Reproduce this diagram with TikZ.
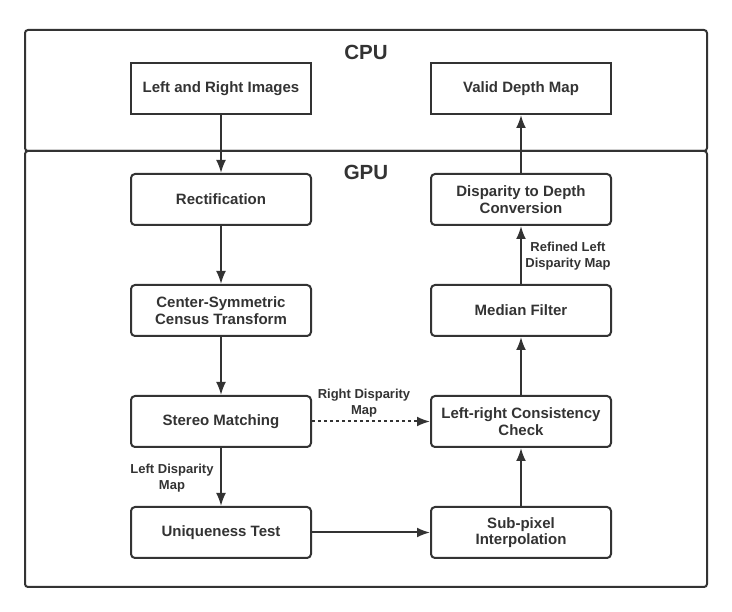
\documentclass[tikz,border=0pt]{standalone}
\usepackage{fontspec}
\setmainfont{Liberation Sans}
\usetikzlibrary{arrows.meta}
\definecolor{ink}{HTML}{333333}
\begin{document}
\begin{tikzpicture}[x=1pt,y=-1pt,
  container/.style={draw=ink,line width=2pt,rounded corners=3pt},
  cpubox/.style={draw=ink,line width=2pt,minimum width=180pt,minimum height=51pt,align=center,font=\fontsize{15}{16.5}\selectfont\bfseries,text=ink,inner sep=2pt},
  gpubox/.style={cpubox,rounded corners=4pt},
  title/.style={font=\fontsize{20.5}{24}\selectfont\bfseries,text=ink},
  lbl/.style={font=\fontsize{13}{16}\selectfont\bfseries,text=ink,align=center,inner sep=1pt},
  arr/.style={draw=ink,line width=2pt,-{Latex[length=13pt,width=10pt]}},
]
\useasboundingbox (0,0) rectangle (732,612);
\draw[container] (25,30) rectangle (707,151);
\draw[container] (25,151) rectangle (707,587);
\node[title] (cpu) at (366,52) {CPU};
\node[title] (gpu) at (366,172) {GPU};
\node[cpubox] (lr) at (221,88.5) {Left and Right Images};
\node[cpubox] (vd) at (521,88.5) {Valid Depth Map};
\node[gpubox] (rect) at (221,199.5) {Rectification};
\node[gpubox] (census) at (221,310.5) {Center-Symmetric\\Census Transform};
\node[gpubox] (stereo) at (221,421.5) {Stereo Matching};
\node[gpubox] (uniq) at (221,532.5) {Uniqueness Test};
\node[gpubox] (d2d) at (521,199.5) {Disparity to Depth\\Conversion};
\node[gpubox] (median) at (521,310.5) {Median Filter};
\node[gpubox] (lrc) at (521,421.5) {Left-right Consistency\\Check};
\node[gpubox] (sub) at (521,532.5) {Sub-pixel\\Interpolation};
\draw[arr] (lr) -- (rect);
\draw[arr] (rect) -- (census);
\draw[arr] (census) -- (stereo);
\draw[arr] (stereo) -- (uniq);
\draw[arr] (uniq) -- (sub);
\draw[arr] (sub) -- (lrc);
\draw[arr] (lrc) -- (median);
\draw[arr] (median) -- (d2d);
\draw[arr] (d2d) -- (vd);
\draw[arr,dash pattern=on 3pt off 3pt] (stereo) -- (lrc);
\node[lbl] (l1) at (568,256) {Refined Left\\Disparity Map};
\node[lbl] (l2) at (364,403) {Right Disparity\\Map};
\node[lbl] (l3) at (172,478) {Left Disparity\\Map};
\end{tikzpicture}
\end{document}
